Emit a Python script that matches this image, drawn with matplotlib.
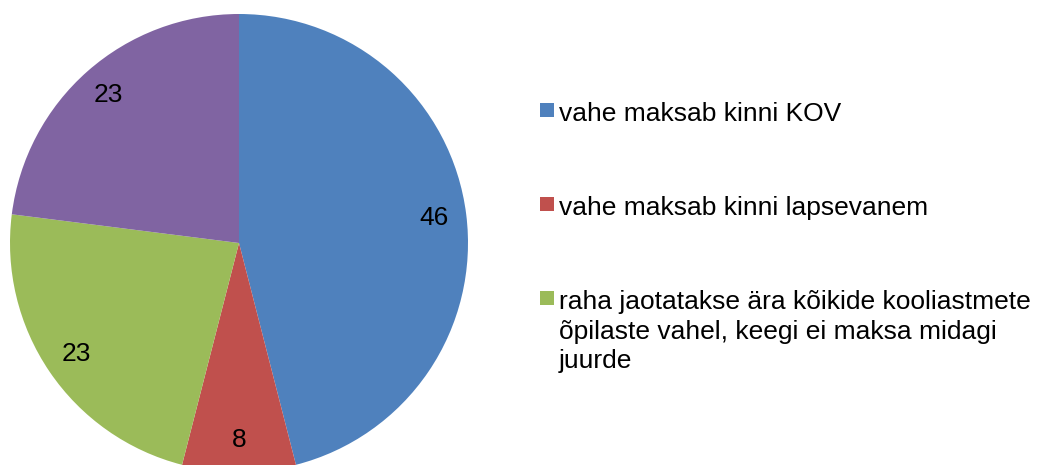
import matplotlib.pyplot as plt
from matplotlib.patches import Rectangle

plt.rcParams['font.family'] = ['Liberation Sans', 'DejaVu Sans']

# Data
values = [46, 8, 23, 23]
colors = ['#4F81BD', '#C0504D', '#9BBB59', '#8064A2']
legend_labels = [
    'vahe maksab kinni KOV',
    'vahe maksab kinni lapsevanem',
    'raha jaotatakse ära kõikide kooliastmete\nõpilaste vahel, keegi ei maksa midagi\njuurde',
]

W, H = 1045, 465
fig = plt.figure(figsize=(W / 100, H / 100), dpi=100)

# Pie centre at pixel (239, 243) with radius 229 px
cx, cy, r = 239, 243, 229
ax = fig.add_axes([0, 0, 1, 1])

total = sum(values)
wedges, texts, autotexts = ax.pie(
    values, colors=colors, startangle=90, counterclock=False,
    radius=1, center=(0, 0), frame=True,
    autopct=lambda p: f'{p * total / 100:.0f}', pctdistance=0.86,
    wedgeprops=dict(linewidth=0),
    textprops=dict(fontsize=19, color='black'),
)
ax.set_xlim(-cx / r, (W - cx) / r)
ax.set_ylim(-(H - cy) / r, cy / r)
ax.set_aspect('equal')
ax.axis('off')

# Legend drawn by hand so the marker sits on the first line of each entry
baselines = [121, 215, 309]
line_step = 29.5
for wedge, label, y in zip(wedges, legend_labels, baselines):
    fig.patches.append(Rectangle((540 / W, 1 - (y - 4) / H), 14 / W, 14 / H,
                                 transform=fig.transFigure,
                                 facecolor=wedge.get_facecolor(), linewidth=0))
    for i, line in enumerate(label.split('\n')):
        fig.text(559 / W, 1 - (y + i * line_step) / H, line, fontsize=19,
                 va='baseline', ha='left')

plt.savefig('out.png', dpi=100)
